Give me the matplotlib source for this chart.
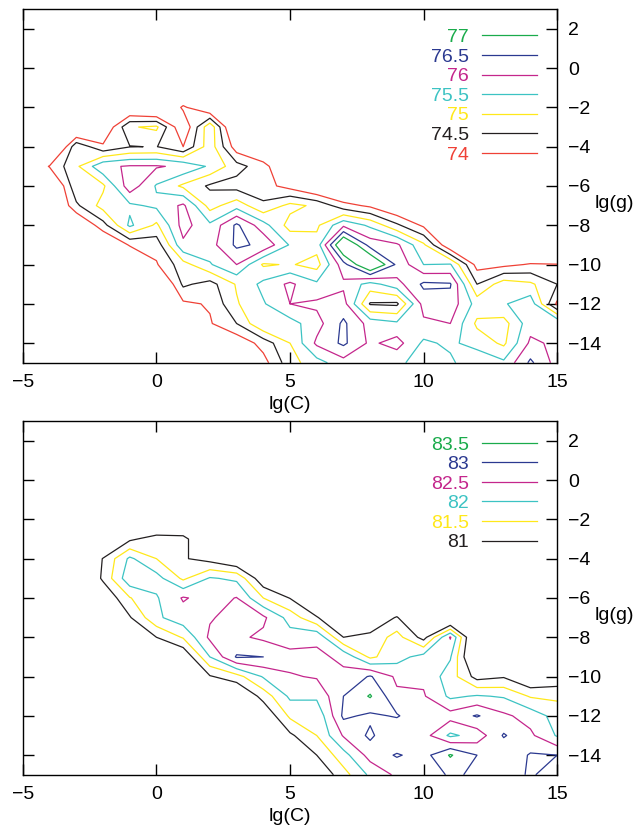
import numpy as np
import matplotlib
matplotlib.use("Agg")
import matplotlib.pyplot as plt
from matplotlib.lines import Line2D

plt.rcParams["font.family"] = ["Liberation Sans", "DejaVu Sans"]

# grid of the search: lg(C) columns, lg(g) rows (top row g=3)
lg_c = np.arange(-5, 16)
lg_g = np.arange(3, -16, -1)

# cross-validation accuracy (%), first data set
acc_top = [
    [73] * 21,
    [73] * 21,
    [73] * 21,
    [73] * 21,
    [73] * 21,
    [73, 73, 73, 73, 73.3, 73.0, 74.1, 73.4, 73, 73, 73, 73, 73, 73, 73, 73, 73, 73, 73, 73, 73],
    [73, 73, 73, 73.4, 74.95, 75.1, 73.5, 75.4, 73, 73, 73, 73, 73, 73, 73, 73, 73, 73, 73, 73, 73],
    [73, 72.5, 74.9, 74.1, 74.48, 74.52, 74.0, 75.3, 73.7, 73.3, 73, 73, 73, 73, 73, 73, 73, 73, 73, 73, 73],
    [73, 74.05, 74.9, 75.9, 76.05, 76.05, 75.9, 75.42, 74.7, 74.2, 73.3, 73, 73, 73, 73, 73, 73, 73, 73, 73, 73],
    [73, 73, 74.9, 74.9, 76.3, 75.45, 74.9, 74.42, 74.3, 74.2, 73.8, 73.3, 73, 73, 73, 73, 73, 73, 73, 73, 73],
    [73, 73, 74.4, 75.2, 75.4, 75.6, 76.1, 74.8, 75.3, 74.6, 75.15, 74.9, 74.2, 73.9, 73.4, 73, 73, 73, 73, 73, 73],
    [73, 73, 73.3, 74.3, 75.6, 74.9, 76.2, 75.6, 76.6, 75.7, 74.8, 74.9, 75.9, 75.4, 74.6, 73.9, 73, 73, 73, 73, 73],
    [73, 73, 73, 73.3, 74.05, 74.2, 75.9, 75.8, 76.6, 76.4, 75.45, 75.2, 77.75, 76.3, 76.1, 75.1, 73.5, 73, 73, 73, 73],
    [73, 73, 73, 73, 73.2, 73.95, 74.8, 75.45, 76.0, 74.93, 75.05, 74.8, 76.3, 77.75, 76.4, 75.5, 75.55, 73.8, 73.86, 74.05, 74.02],
    [73, 73, 73, 73, 73, 73, 74.6, 74.3, 75.05, 75.64, 76.1, 75.6, 75.9, 75.3, 75.8, 76.6, 76.55, 74.5, 75.29, 75.1, 74.5],
    [73, 73, 73, 73, 73, 73, 73.9, 74.05, 74.95, 75.45, 76.0, 76.1, 76.2, 74.45, 74.4, 76.2, 76.3, 75.3, 75.45, 75.8, 73.9],
    [73, 73, 73, 73, 73, 73, 73, 73.95, 74.5, 75.5, 75.3, 75.8, 76.6, 75.8, 75.6, 75.9, 76.0, 74.9, 74.8, 75.8, 76.0],
    [73, 73, 73, 73, 73, 73, 73, 73, 73.6, 74.2, 75.0, 76.1, 76.6, 75.9, 76.2, 75.4, 75.6, 75.3, 74.9, 76.1, 75.9],
    [73, 73, 73, 73, 73, 73, 73, 73, 73, 73.8, 74.8, 75.3, 75.8, 75.5, 75.6, 75.3, 75.4, 75.9, 75.6, 76.6, 75.8],
]

# cross-validation accuracy (%), second data set
acc_bot = [
    [80] * 21,
    [80] * 21,
    [80] * 21,
    [80] * 21,
    [80] * 21,
    [80] * 21,
    [80, 80, 80, 80, 80.9, 81.25, 81.2, 80.2, 80, 80, 80, 80, 80, 80, 80, 80, 80, 80, 80, 80, 80],
    [80, 80, 80, 81.03, 82.1, 81.5, 81.05, 80.8, 80.4, 80, 80, 80, 80, 80, 80, 80, 80, 80, 80, 80, 80],
    [80, 80, 80, 81.1, 82.35, 82.2, 81.4, 82.05, 81.9, 80.6, 80.2, 80, 80, 80, 80, 80, 80, 80, 80, 80, 80],
    [80, 80, 80, 80.5, 81.47, 81.95, 82.55, 82.3, 82.52, 81.5, 80.98, 80.2, 80, 80, 80, 80, 80, 80, 80, 80, 80],
    [80, 80, 80, 80, 80.95, 81.9, 82.3, 82.45, 82.7, 82.6, 81.8, 81.05, 80.3, 80.5, 81.05, 80, 80, 80, 80, 80, 80],
    [80, 80, 80, 80, 80, 81.0, 81.55, 82.6, 82.6, 82.4, 82.2, 82.4, 81.0, 81.15, 81.7, 80.8, 82.55, 80, 80, 80, 80],
    [80, 80, 80, 80, 80, 80, 80.5, 82.0, 83.05, 83.0, 82.7, 82.6, 82.4, 81.4, 81.8, 82.2, 82.05, 80, 80, 80, 80],
    [80, 80, 80, 80, 80, 80, 80, 80.95, 81.3, 82.05, 82.45, 82.55, 82.6, 83.05, 82.4, 82.4, 81.75, 80.8, 80.95, 80.4, 80.6],
    [80, 80, 80, 80, 80, 80, 80, 80, 80.3, 81.2, 82.1, 82.1, 83.0, 83.55, 82.6, 82.55, 81.9, 82.05, 81.95, 81.45, 81.4],
    [80, 80, 80, 80, 80, 80, 80, 80, 80, 80.5, 81.6, 81.6, 83.1, 82.9, 83.05, 82.6, 82.7, 83.05, 82.6, 82.3, 81.8],
    [80, 80, 80, 80, 80, 80, 80, 80, 80, 80, 80.9, 81.5, 82.55, 83.1, 82.5, 82.7, 81.9, 82.2, 83.05, 82.6, 81.95],
    [80, 80, 80, 80, 80, 80, 80, 80, 80, 80, 80.3, 81.0, 81.8, 82.7, 83.05, 82.8, 83.55, 83.0, 82.6, 83.05, 83.0],
    [80, 80, 80, 80, 80, 80, 80, 80, 80, 80, 80, 80.5, 81.3, 82.1, 82.6, 82.55, 83.1, 82.9, 82.6, 83.1, 82.6],
]

levels_top = [74, 74.5, 75, 75.5, 76, 76.5, 77]
levels_bot = [81, 81.5, 82, 82.5, 83, 83.5]
level_colors = ["#ef4136", "#231f20", "#ffe81a", "#3cc3c3", "#c4268c", "#2b3990", "#1aab4b"]

FS = 14


def draw_panel(ax, acc, levels, colors, key_top):
    X, Y = np.meshgrid(lg_c, lg_g)
    Z = np.array(acc, dtype=float)
    ax.contour(X, Y, Z, levels=levels, colors=colors, linewidths=0.9)

    ax.set_xlim(-5, 15)
    ax.set_ylim(-15, 3)
    ax.set_xticks([-5, 0, 5, 10, 15])
    ax.set_yticks(np.arange(2, -15, -2))
    ax.tick_params(direction="in", length=8, width=1, top=True, bottom=True,
                   left=True, right=True, labelleft=False, labelright=True,
                   labelsize=FS, pad=8)
    for sp in ax.spines.values():
        sp.set_linewidth(1.0)

    ax.set_xlabel("lg(C)", fontsize=FS)
    ax.xaxis.set_label_coords(0.5, -0.095)
    ax.yaxis.set_label_position("right")
    ax.set_ylabel("lg(g)", fontsize=FS, rotation=0, ha="left", va="center")
    ax.yaxis.set_label_coords(1.07, 0.45)

    # key: highest level first, label left of the sample line
    handles = [Line2D([], [], color=c, lw=0.9) for c in colors][::-1]
    labels = [f"{l:g}" for l in levels][::-1]
    leg = ax.legend(handles, labels, loc="upper right", bbox_to_anchor=(0.962, key_top),
                    frameon=False, markerfirst=False, fontsize=FS, handlelength=2.8,
                    handletextpad=0.7, labelspacing=0.1, borderpad=0, borderaxespad=0)
    for txt, c in zip(leg.get_texts(), colors[::-1]):
        txt.set_color(c)
        txt.set_ha("right")


fig = plt.figure(figsize=(6.36, 8.34), dpi=100)
ax1 = fig.add_axes([0.036, 0.565, 0.84, 0.424])
ax2 = fig.add_axes([0.036, 0.071, 0.84, 0.424])

draw_panel(ax1, acc_top, levels_top, level_colors, 0.945)
draw_panel(ax2, acc_bot, levels_bot, level_colors[1:], 0.958)

fig.savefig("out.png", dpi=100)
